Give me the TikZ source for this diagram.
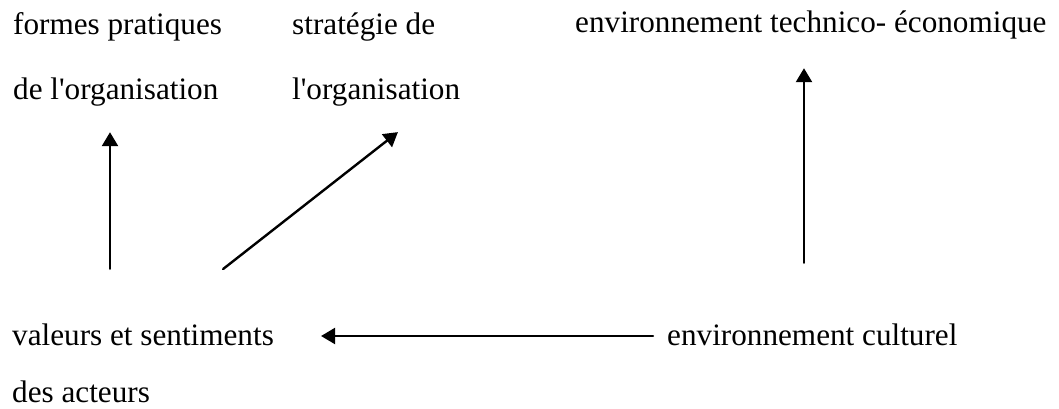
\documentclass[tikz,border=0pt]{standalone}
\usepackage{fontspec}
\setmainfont{Liberation Serif}
\usetikzlibrary{arrows.meta}
\begin{document}
\begin{tikzpicture}[x=1pt,y=-1pt,>={Triangle[length=14pt,width=16pt]}, font=\fontsize{31.2}{40}\selectfont, line join=round, line cap=round,
	texte/.style={inner sep=0pt, anchor=base west, text height=24pt, text depth=6pt},
	fleche/.style={->, line width=2.4pt}]
		\useasboundingbox (0,0) rectangle (1059,409);
		%	textes
		\node[texte] (forme1) at (13,35) {formes pratiques};
		\node[texte] (forme2) at (13,100) {de l\textquotesingle organisation};
		\node[texte] (strat1) at (292,35) {stratégie de};
		\node[texte] (strat2) at (292,100) {l\textquotesingle organisation};
		\node[texte] (tech) at (575,33) {environnement technico- économique};
		\node[texte] (val1) at (12,345) {valeurs et sentiments};
		\node[texte] (val2) at (12,402) {des acteurs};
		\node[texte] (cult) at (667,345) {environnement culturel};
		%	fleches
		\draw[fleche, shorten <=52pt, shorten >=26pt] ([xshift=98pt]val1.north west) -- ([xshift=97pt]forme2.south west);
		\draw[fleche, shorten <=84pt, shorten >=42pt] ([xshift=145pt]val1.north west) -- ([xshift=139pt]strat2.south west);
		\draw[fleche, shorten <=58pt, shorten >=29pt] ([xshift=137pt]cult.north west) -- ([xshift=229pt]tech.south west);
		\draw[fleche, shorten <=14pt, shorten >=47pt] (cult.west) -- (val1.east);
		\end{tikzpicture}
\end{document}
